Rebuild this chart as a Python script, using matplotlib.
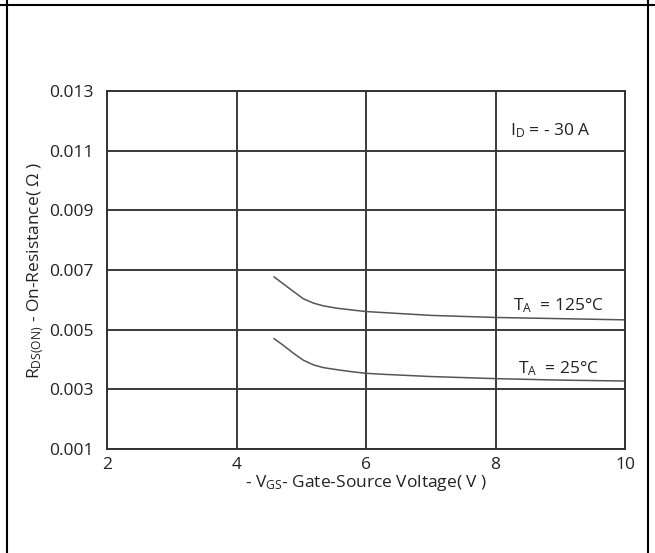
import matplotlib
matplotlib.use("Agg")
import matplotlib.pyplot as plt
from matplotlib.lines import Line2D

plt.rcParams["font.family"] = ["Open Sans", "DejaVu Sans"]
plt.rcParams["mathtext.fontset"] = "custom"
plt.rcParams["mathtext.rm"] = "Open Sans"
plt.rcParams["mathtext.it"] = "Open Sans"

# data
vgs = [4.58, 4.72, 4.88, 5.03, 5.19, 5.34, 5.55, 5.75, 5.99, 6.22, 7.0, 8.0, 9.0, 10.0]
rds_125 = [0.00677, 0.00654, 0.00628, 0.00604, 0.00589, 0.00580, 0.00572, 0.00567,
           0.00561, 0.00558, 0.00548, 0.00541, 0.00537, 0.00533]
rds_25 = [0.00470, 0.00448, 0.00421, 0.00398, 0.00382, 0.00373, 0.00366, 0.00360,
          0.00354, 0.00351, 0.00343, 0.00336, 0.00331, 0.00328]

x_ticks = [2, 4, 6, 8, 10]
y_ticks = [0.001, 0.003, 0.005, 0.007, 0.009, 0.011, 0.013]

fig = plt.figure(figsize=(6.55, 5.53), dpi=100)
ax = fig.add_axes([0.1634, 0.188, 0.7908, 0.6474])

ax.plot(vgs, rds_125, color="#555555", lw=1.1)
ax.plot(vgs, rds_25, color="#555555", lw=1.1)

ax.set_xlim(2, 10)
ax.set_ylim(0.001, 0.013)
ax.set_xticks(x_ticks)
ax.set_yticks(y_ticks)
ax.set_xticklabels([str(v) for v in x_ticks])
ax.set_yticklabels([f"{v:.3f}" for v in y_ticks])
ax.tick_params(length=0, labelsize=12.5, colors="#222222")
ax.tick_params(axis="y", pad=10)
ax.tick_params(axis="x", pad=6)

ax.grid(True, color="#3a3a3a", lw=1.4)
ax.set_axisbelow(True)
for s in ax.spines.values():
    s.set_color("#333333")
    s.set_linewidth(1.4)

ax.set_xlabel(r"- V$_{\mathrm{GS}}$- Gate-Source Voltage( V )", fontsize=12.5,
              color="#222222", labelpad=0)
ax.set_ylabel(r"R$_{\mathrm{DS(ON)}}$ - On-Resistance( $\Omega$ )", fontsize=12.5,
              color="#222222", labelpad=2)

ax.text(8.84, 0.01167, r"I$_{\mathrm{D}}$ = - 30 A", fontsize=12.5, ha="center",
        va="center", color="#222222")
ax.text(8.97, 0.00582, r"T$_{\mathrm{A}}$  = 125°C", fontsize=12.5, ha="center",
        va="center", color="#222222")
ax.text(8.97, 0.00368, r"T$_{\mathrm{A}}$  = 25°C", fontsize=12.5, ha="center",
        va="center", color="#222222")

# table-cell frame around the chart
fig.add_artist(Line2D([0, 1], [0.991, 0.991], transform=fig.transFigure, color="black", lw=1.5))
fig.add_artist(Line2D([0.0107, 0.0107], [0, 1], transform=fig.transFigure, color="black", lw=1.5))
fig.add_artist(Line2D([0.989, 0.989], [0, 1], transform=fig.transFigure, color="black", lw=1.5))

fig.savefig("out.png", dpi=100)
